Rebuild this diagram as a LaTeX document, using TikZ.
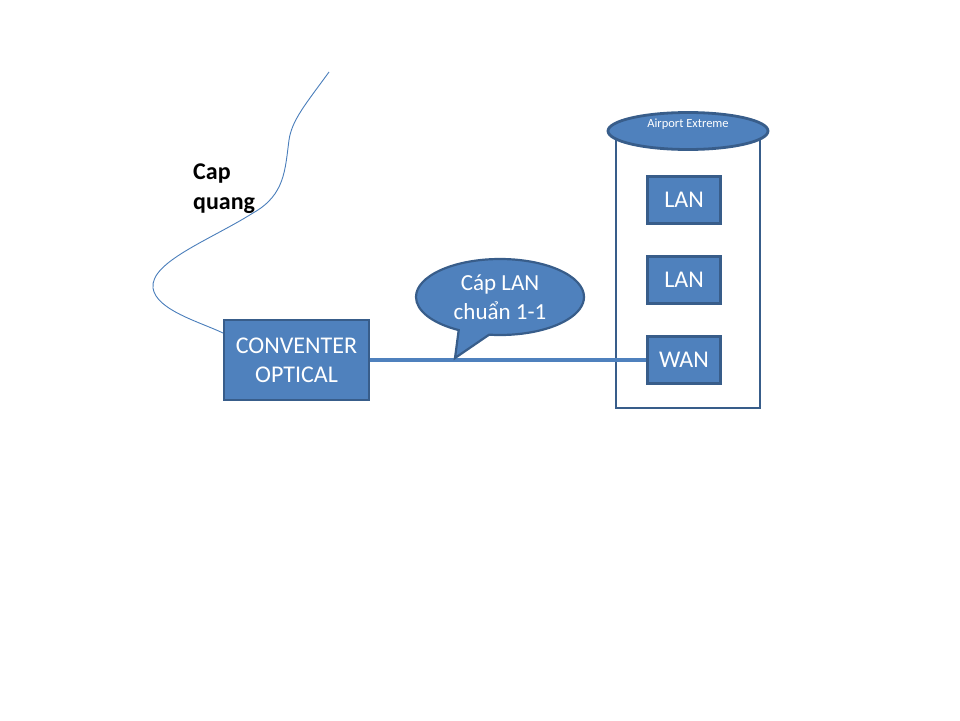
\documentclass[tikz,border=0pt]{standalone}
\usepackage{fontspec}
\setmainfont{Carlito}
\usetikzlibrary{shapes.geometric,shapes.callouts}
\definecolor{fillb}{HTML}{4F81BD}
\definecolor{edgeb}{HTML}{385D8A}
\definecolor{fiber}{HTML}{4A7EBB}
\begin{document}
\begin{tikzpicture}[x=1pt,y=-1pt,
  bluebox/.style={draw=edgeb,line width=2.8pt,fill=fillb,text=white,font=\fontsize{24}{29}\selectfont,align=center,inner sep=0pt},
]
\useasboundingbox (0,0) rectangle (960,720);
% fiber cable
\draw[fiber,line width=0.9pt] (329,72) .. controls (305,105) and (292,120) .. (289,140)
  .. controls (285,170) and (285,195) .. (253,213)
  .. controls (210,240) and (150,262) .. (153,288)
  .. controls (156,310) and (200,322) .. (223,333);
\node[anchor=north west,font=\bfseries\fontsize{24}{30}\selectfont,align=left,inner sep=0pt] (capq) at (193,164) {Cap\\quang};
% router body
\node[draw=edgeb,line width=2.8pt,fill=white,minimum width=144pt,minimum height=278pt,inner sep=0pt] (router) at (688,269) {};
\node[ellipse,draw=edgeb,line width=2.8pt,fill=fillb,minimum width=160pt,minimum height=37pt,inner sep=0pt] (airport) at (688,131) {};
\node[text=white,font=\fontsize{12.5}{14}\selectfont,inner sep=0pt] (airtxt) at (688,124) {Airport Extreme};
\node[bluebox,minimum width=73pt,minimum height=47pt] (lan1) at (684,200) {LAN};
\node[bluebox,minimum width=73pt,minimum height=47pt] (lan2) at (684,280) {LAN};
\node[bluebox,minimum width=73pt,minimum height=47pt] (wan) at (684,360) {WAN};
% converter
\node[bluebox,minimum width=145pt,minimum height=80pt] (conv) at (296.5,360) {CONVENTER\\OPTICAL};
% cable
\draw[fillb,line width=4pt] (conv.east) -- (wan.west);
% callout
\coordinate (tip) at (455,358);
\node[ellipse callout,draw=edgeb,line width=2.2pt,fill=fillb,text=white,minimum width=168pt,minimum height=76pt,inner sep=0pt,
  callout absolute pointer={(tip)},callout pointer arc=22,font=\fontsize{23}{29}\selectfont,align=center] (bubble) at (500,297) {Cáp LAN\\chuẩn 1-1};
\end{tikzpicture}
\end{document}
